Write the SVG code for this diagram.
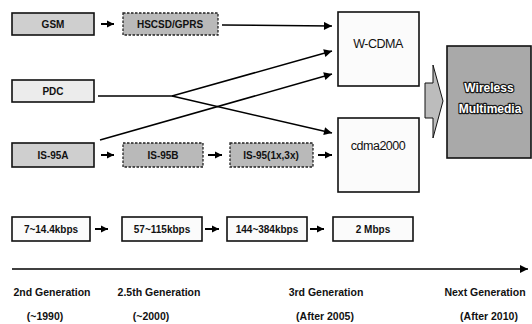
<svg xmlns="http://www.w3.org/2000/svg" width="532" height="324" viewBox="0 0 532 324">
<defs>
<marker id="ah" viewBox="0 0 10 10" refX="10" refY="5" markerWidth="7" markerHeight="8" markerUnits="userSpaceOnUse" orient="auto">
<path d="M0,0 L10,5 L0,10 z" fill="#000"/>
</marker>
<marker id="ahs" viewBox="0 0 10 10" refX="10" refY="5" markerWidth="9" markerHeight="8" markerUnits="userSpaceOnUse" orient="auto">
<path d="M0,0 L10,5 L0,10 z" fill="#000"/>
</marker>
</defs>
<style>
.solid{stroke:#111;stroke-width:1.6}
.dash{stroke:#222;stroke-width:1.3;stroke-dasharray:2.5 1.5}
.g1{fill:#cfcfcf}
.g2{fill:#b9b9b9}
.g3{fill:#ececec}
.w{fill:#fbfbfb}
.lbl{font-family:"Liberation Sans",Arial,sans-serif;font-weight:bold;font-size:10px;fill:#111;text-anchor:middle;dominant-baseline:central}
.big{font-family:"Liberation Sans",Arial,sans-serif;font-size:12.5px;fill:#111;text-anchor:middle;dominant-baseline:central;letter-spacing:-0.5px}
.wm{font-family:"Liberation Sans",Arial,sans-serif;font-weight:bold;font-size:12px;fill:#fff;stroke:#1a1a1a;stroke-width:2.4;stroke-linejoin:round;paint-order:stroke;text-anchor:middle;dominant-baseline:central}
.tl{font-family:"Liberation Sans",Arial,sans-serif;font-weight:bold;font-size:10.5px;fill:#111;text-anchor:middle}
.ln{stroke:#000;stroke-width:1.5;fill:none}
.sa{stroke:#000;stroke-width:2;fill:none}
</style>

<g id="gsm"><rect x="12" y="13" width="82" height="22" class="g1 solid"/><text x="53" y="24" class="lbl">GSM</text></g>
<g id="hscsd"><rect x="123" y="13" width="95" height="22" class="g2 dash"/><text x="170" y="24" class="lbl">HSCSD/GPRS</text></g>
<g id="pdc"><rect x="12" y="80" width="82" height="22" class="g3 solid"/><text x="53" y="91" class="lbl">PDC</text></g>
<g id="is95a"><rect x="12" y="143" width="82" height="24" class="g1 solid"/><text x="53" y="155" class="lbl">IS-95A</text></g>
<g id="is95b"><rect x="123" y="143" width="80" height="24" class="g2 dash"/><text x="163" y="155" class="lbl">IS-95B</text></g>
<g id="is95x"><rect x="230" y="143" width="83" height="24" class="g2 dash"/><text x="271" y="155" class="lbl">IS-95(1x,3x)</text></g>
<g id="wcdma"><rect x="338" y="12" width="81" height="74" class="w solid"/><text x="378" y="44" class="big">W-CDMA</text></g>
<g id="cdma2000"><rect x="338" y="118" width="81" height="74" class="w solid"/><text x="378" y="146" class="big">cdma2000</text></g>
<g id="wireless"><rect x="447" y="46" width="84" height="112" fill="#a9a9a9" stroke="#111" stroke-width="1.6"/><text x="489" y="88" class="wm">Wireless</text><text x="490" y="109" class="wm">Multimedia</text></g>
<g id="bigarrow"><path d="M425,83 L433,83 L433,65 L443,101 L433,138 L433,118 L425,118 z" fill="#bcbcbc" stroke="#111" stroke-width="1"/></g>
<g id="s1"><rect x="12" y="217" width="78" height="24" class="w solid"/><text x="51" y="229" class="lbl">7~14.4kbps</text></g>
<g id="s2"><rect x="122" y="217" width="80" height="24" class="w solid"/><text x="162" y="229" class="lbl">57~115kbps</text></g>
<g id="s3"><rect x="227" y="217" width="80" height="24" class="w solid"/><text x="267" y="229" class="lbl">144~384kbps</text></g>
<g id="s4"><rect x="333" y="217" width="80" height="24" class="w solid"/><text x="373" y="229" class="lbl">2 Mbps</text></g>

<g id="connectors">
<line x1="101" y1="24" x2="114" y2="24" class="sa" marker-end="url(#ah)"/>
<line x1="222" y1="25" x2="332" y2="26" class="ln" marker-end="url(#ahs)"/>
<polyline points="98,96 172,96 332,51" class="ln" marker-end="url(#ahs)"/>
<line x1="172" y1="96" x2="332" y2="133" class="ln" marker-end="url(#ahs)"/>
<line x1="100" y1="140" x2="332" y2="74" class="ln" marker-end="url(#ahs)"/>
<line x1="101" y1="155" x2="114" y2="155" class="sa" marker-end="url(#ah)"/>
<line x1="208" y1="155" x2="222" y2="155" class="sa" marker-end="url(#ah)"/>
<line x1="318" y1="155" x2="332" y2="155" class="sa" marker-end="url(#ah)"/>
<line x1="95" y1="229" x2="108" y2="229" class="sa" marker-end="url(#ah)"/>
<line x1="205" y1="229" x2="219" y2="229" class="sa" marker-end="url(#ah)"/>
<line x1="310" y1="229" x2="324" y2="229" class="sa" marker-end="url(#ah)"/>
<line x1="12" y1="269" x2="528" y2="269" class="ln" marker-end="url(#ahs)"/>
</g>

<g id="timeline">
<text x="52" y="296" class="tl">2nd Generation</text>
<text x="45" y="320" class="tl">(~1990)</text>
<text x="159" y="296" class="tl">2.5th Generation</text>
<text x="151" y="320" class="tl">(~2000)</text>
<text x="326" y="296" class="tl">3rd Generation</text>
<text x="325" y="320" class="tl">(After 2005)</text>
<text x="485" y="296" class="tl">Next Generation</text>
<text x="489" y="320" class="tl">(After 2010)</text>
</g>
</svg>
